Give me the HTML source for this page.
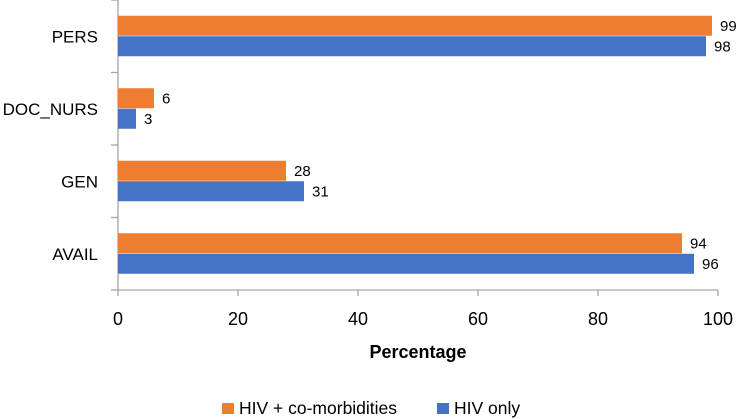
<!DOCTYPE html>
<html><head><meta charset="utf-8"><style>
body{margin:0;background:#fff}
svg{display:block;font-family:"Liberation Sans",Carlito,sans-serif}
</style></head><body>
<svg id="chart" width="742" height="419"></svg>
<script>
const categories=["PERS","DOC_NURS","GEN","AVAIL"];
const seriesNames=["HIV + co-morbidities","HIV only"];
const comorbValues=[99,6,28,94];
const hivOnlyValues=[98,3,31,96];
const xTicks=[0,20,40,60,80,100];
const colors=["#ED7D31","#4472C4"];
const NS="http://www.w3.org/2000/svg";
const svg=document.getElementById("chart");
const X0=118,X1=718,Y0=0,Y1=290;
const xs=v=>X0+(v-0)/(100-0)*(X1-X0);
const band=(Y1-Y0)/categories.length;
function el(t,a,txt){const e=document.createElementNS(NS,t);for(const k in a)e.setAttribute(k,a[k]);if(txt!==undefined)e.textContent=txt;svg.appendChild(e);return e;}
let ax=el("line",{x1:X0,y1:Y0,x2:X0,y2:Y1,stroke:"#a6a6a6","stroke-width":1.3});

let bx=el("line",{x1:X0,y1:Y1,x2:X1,y2:Y1,stroke:"#a6a6a6","stroke-width":1.3});

for(let i=0;i<=categories.length;i++){const y=Y0+i*band;
 const t=el("line",{x1:X0-7,y1:y,x2:X0,y2:y,stroke:"#a6a6a6","stroke-width":1.3});
 }
xTicks.forEach(v=>{const x=xs(v);
 const t=el("line",{x1:x,y1:Y1,x2:x,y2:Y1+6,stroke:"#a6a6a6","stroke-width":1.3});
 
 const l=el("text",{x:x,y:325,"text-anchor":"middle","font-size":18,fill:"#000"},v);
 });
const bh=20.5;
categories.forEach((c,i)=>{const cy=Y0+i*band+band/2;
 const l=el("text",{x:98,y:cy+6,"text-anchor":"end","font-size":17,fill:"#000"},c);
 
 [comorbValues,hivOnlyValues].forEach((arr,s)=>{const v=arr[i];const y=cy-bh+s*bh;
  const r=el("rect",{x:X0,y:y,width:xs(v)-X0,height:bh-0.5,fill:colors[s]});
  
  
  const t=el("text",{x:xs(v)+8,y:y+bh/2+5,"font-size":15,fill:"#000"},v);
  });
});
const xt=el("text",{x:418,y:358,"text-anchor":"middle","font-size":18,"font-weight":"bold",fill:"#000"},"Percentage");

const lx=[222,437];
seriesNames.forEach((n,s)=>{
 const r=el("rect",{x:lx[s],y:403,width:12,height:11,fill:colors[s]});
 
 const t=el("text",{x:lx[s]+17,y:414,"font-size":17.5,fill:"#000"},n);
 });
</script>
</body></html>
